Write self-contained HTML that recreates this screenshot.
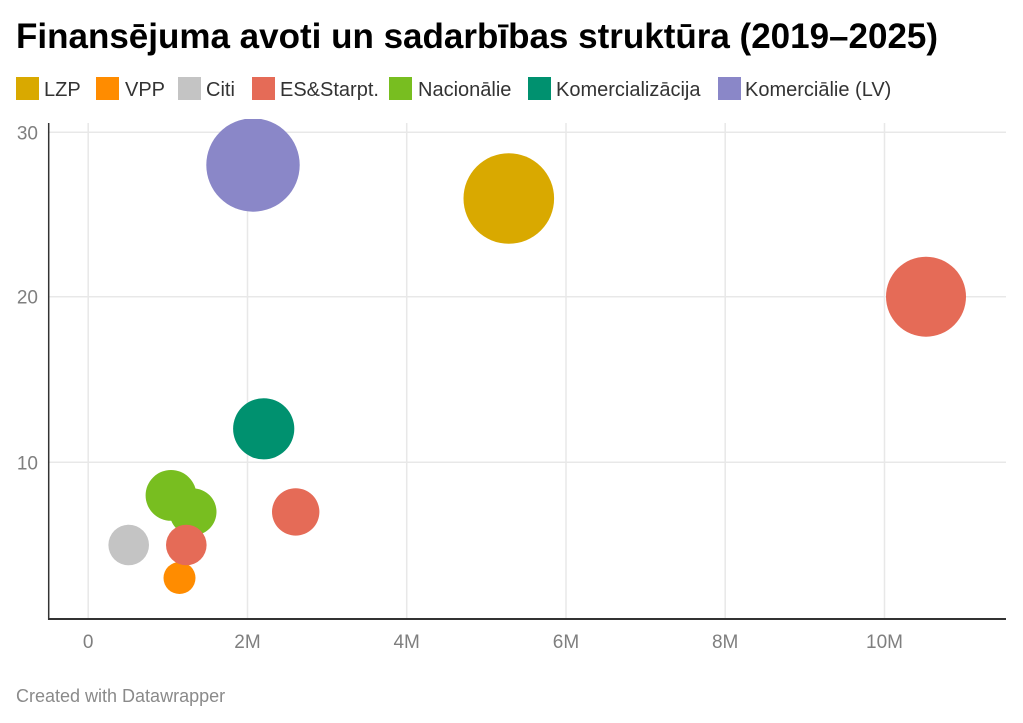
<!DOCTYPE html>
<html><head><meta charset="utf-8"><style>
html,body{margin:0;padding:0;background:#fff;}
svg{display:block;}
text{font-family:"Liberation Sans",Arial,sans-serif;}
</style></head><body>
<svg width="1023" height="723" viewBox="0 0 1023 723" xmlns="http://www.w3.org/2000/svg">
<rect width="1023" height="723" fill="#fff"/>
<text x="16" y="48" font-size="35" font-weight="bold" fill="#000">Finansējuma avoti un sadarbības struktūra (2019–2025)</text>
<g font-size="20" fill="#333">
<rect x="16" y="77" width="23" height="23" fill="#d9a900"/><text x="44" y="96">LZP</text>
<rect x="96" y="77" width="23" height="23" fill="#ff8c00"/><text x="125" y="96">VPP</text>
<rect x="178" y="77" width="23" height="23" fill="#c4c4c4"/><text x="206" y="96">Citi</text>
<rect x="252" y="77" width="23" height="23" fill="#e56b57"/><text x="280" y="96">ES&amp;Starpt.</text>
<rect x="389" y="77" width="23" height="23" fill="#78be20"/><text x="418" y="96">Nacionālie</text>
<rect x="528" y="77" width="23" height="23" fill="#00916f"/><text x="556" y="96">Komercializācija</text>
<rect x="718" y="77" width="23" height="23" fill="#8a87c8"/><text x="745" y="96">Komerciālie (LV)</text>
</g>
<g stroke="#e8e8e8" stroke-width="1.5">
<line x1="49" y1="132.3" x2="1006" y2="132.3"/>
<line x1="49" y1="296.7" x2="1006" y2="296.7"/>
<line x1="49" y1="462.3" x2="1006" y2="462.3"/>
<line x1="88.2" y1="123" x2="88.2" y2="619"/>
<line x1="247.5" y1="123" x2="247.5" y2="619"/>
<line x1="406.7" y1="123" x2="406.7" y2="619"/>
<line x1="566" y1="123" x2="566" y2="619"/>
<line x1="725.2" y1="123" x2="725.2" y2="619"/>
<line x1="884.5" y1="123" x2="884.5" y2="619"/>
</g>
<defs><clipPath id="c"><rect x="49" y="119" width="960" height="500"/></clipPath></defs>
<g clip-path="url(#c)">
<circle cx="253" cy="165" r="46.7" fill="#8a87c8"/>
<circle cx="508.8" cy="198.5" r="45.3" fill="#d9a900"/>
<circle cx="926" cy="296.7" r="40" fill="#e56b57"/>
<circle cx="263.7" cy="428.8" r="30.6" fill="#00916f"/>
<circle cx="171" cy="495.4" r="25.4" fill="#78be20"/>
<circle cx="193" cy="511.9" r="23.5" fill="#78be20"/>
<circle cx="295.7" cy="511.9" r="23.7" fill="#e56b57"/>
<circle cx="128.7" cy="545" r="20.3" fill="#c4c4c4"/>
<circle cx="179.5" cy="578" r="16" fill="#ff8c00"/>
<circle cx="186.3" cy="545" r="20.3" fill="#e56b57"/>
</g>
<line x1="48.7" y1="123" x2="48.7" y2="620" stroke="#333" stroke-width="1.5"/>
<line x1="48" y1="619" x2="1006" y2="619" stroke="#333" stroke-width="2"/>
<g font-size="19" fill="#7f7f7f" text-anchor="end">
<text x="38" y="139.3">30</text>
<text x="38" y="303.7">20</text>
<text x="38" y="469.3">10</text>
</g>
<g font-size="19" fill="#7f7f7f" text-anchor="middle">
<text x="88.2" y="648">0</text>
<text x="247.5" y="648">2M</text>
<text x="406.7" y="648">4M</text>
<text x="566" y="648">6M</text>
<text x="725.2" y="648">8M</text>
<text x="884.5" y="648">10M</text>
</g>
<text x="16" y="702" font-size="18" fill="#8a8a8a">Created with Datawrapper</text>
</svg>
</body></html>
